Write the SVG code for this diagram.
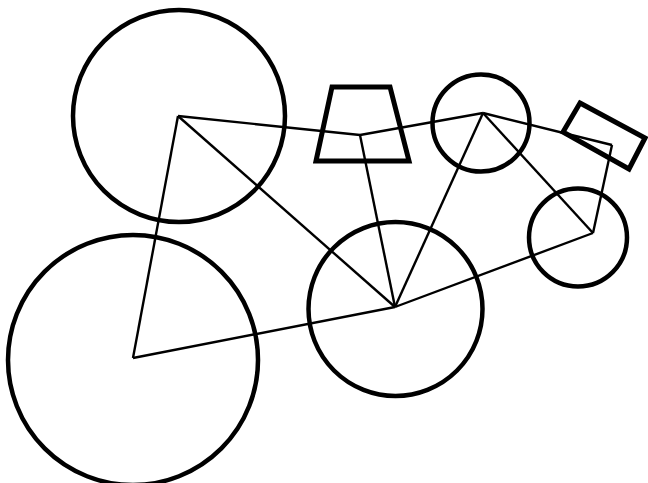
<svg xmlns="http://www.w3.org/2000/svg" width="648" height="483" viewBox="0 0 648 483">
<style>
.shape{fill:none;stroke:#000;stroke-width:4.5}
.box{fill:none;stroke:#000;stroke-width:5;stroke-linejoin:miter}
.edge{fill:none;stroke:#000;stroke-width:2.4}
</style>
<rect width="648" height="483" fill="#fff"/>
<g id="connectors">
<line class="edge" x1="178" y1="116" x2="360" y2="135"/>
<line class="edge" x1="178" y1="116" x2="395" y2="307"/>
<line class="edge" x1="178" y1="116" x2="133" y2="358"/>
<line class="edge" x1="133" y1="358" x2="395" y2="307"/>
<line class="edge" x1="360" y1="135" x2="483" y2="113"/>
<line class="edge" x1="360" y1="135" x2="395" y2="307"/>
<line class="edge" x1="483" y1="113" x2="395" y2="307"/>
<line class="edge" x1="483" y1="113" x2="612" y2="145"/>
<line class="edge" x1="483" y1="113" x2="593" y2="233"/>
<line class="edge" x1="612" y1="145" x2="593" y2="233"/>
<line class="edge" x1="395" y1="307" x2="593" y2="233"/>
</g>
<g id="nodeA"><circle class="shape" cx="179" cy="116" r="106"/></g>
<g id="nodeB"><circle class="shape" cx="133" cy="360" r="125"/></g>
<g id="nodeC"><circle class="shape" cx="395.5" cy="309" r="87"/></g>
<g id="nodeD"><circle class="shape" cx="578" cy="237.5" r="49"/></g>
<g id="nodeE"><circle class="shape" cx="481" cy="123" r="48.5"/></g>
<g id="nodeF"><polygon class="box" points="332,87 390,87 409,161 316,161"/></g>
<g id="nodeG"><polygon class="box" points="580,103 645,138 629,169 563,132"/></g>
</svg>
